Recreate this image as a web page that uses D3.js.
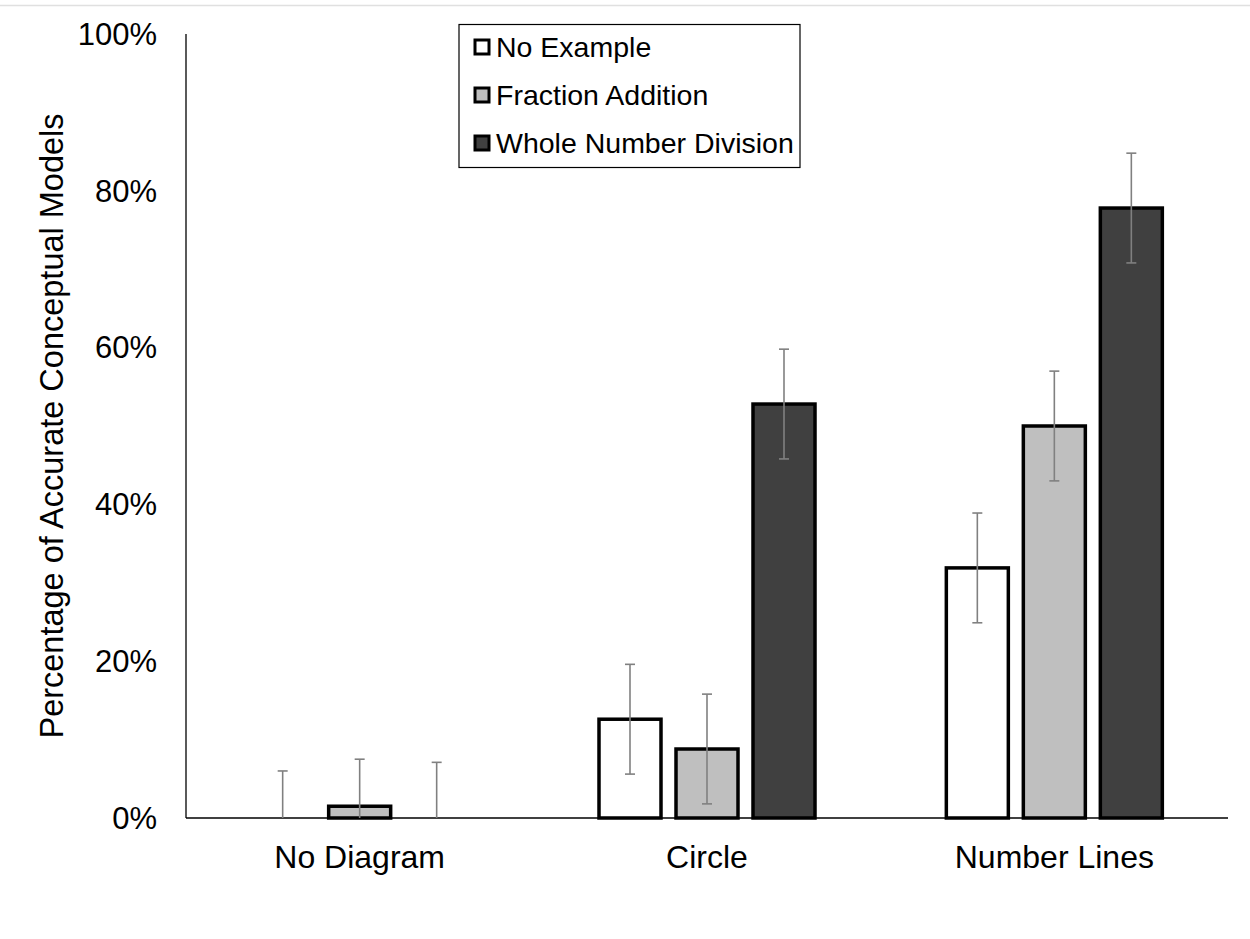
<!DOCTYPE html>
<html><head><meta charset="utf-8">
<script src="https://cdn.jsdelivr.net/npm/d3@7"></script>
<style>body{margin:0;background:#fff;} svg{display:block;font-family:"Liberation Sans",Arial,sans-serif;}</style>
</head><body>
<svg id="c" width="1250" height="939"></svg>
<script>
const categories = ["No Diagram", "Circle", "Number Lines"];
const seriesNames = ["No Example", "Fraction Addition", "Whole Number Division"];
const seriesColors = ["#ffffff", "#bfbfbf", "#404040"];
const noExample = [0, 12.6, 31.9];
const fractionAddition = [1.5, 8.8, 50.0];
const wholeNumberDivision = [0, 52.8, 77.8];
const errNoExample = [6.0, 7.0, 7.0];
const errFractionAddition = [6.0, 7.0, 7.0];
const errWholeNumberDivision = [7.1, 7.0, 7.0];
const yTicks = [0, 20, 40, 60, 80, 100];

(function(){
const values = [noExample, fractionAddition, wholeNumberDivision];
const errs = [errNoExample, errFractionAddition, errWholeNumberDivision];

const svg = d3.select("#c");
const mLeft = 186, mRight = 1228, mTop = 34, mBottom = 818;

svg.append("line").attr("x1",0).attr("x2",1250).attr("y1",5.5).attr("y2",5.5)
  .attr("stroke","#e0e0e0").attr("stroke-width",1.5);

const x0 = d3.scaleBand().domain(categories).range([mLeft, mRight]);
const y = d3.scaleLinear().domain([0, 100]).range([mBottom, mTop]);
const barW = 62, step = 77;

const data = [];
categories.forEach((c, ci) => {
  seriesNames.forEach((s, si) => {
    data.push({c, si, v: values[si][ci], e: errs[si][ci]});
  });
});
const cx = d => x0(d.c) + x0.bandwidth()/2 + (d.si - 1) * step;

svg.append("g").selectAll("text").data(yTicks).join("text")
  .attr("x", 157).attr("y", d => y(d)).attr("dy", "0.35em")
  .attr("text-anchor", "end").attr("font-size", 31).attr("fill", "#000")
  .text(d => d + "%");

svg.append("g").selectAll("rect").data(data.filter(d => d.v > 0)).join("rect")
  .attr("x", d => cx(d) - barW/2).attr("width", barW)
  .attr("y", d => y(d.v)).attr("height", d => y(0) - y(d.v))
  .attr("fill", d => seriesColors[d.si])
  .attr("stroke", "#000").attr("stroke-width", 3.5);

svg.append("line").attr("x1", mLeft).attr("x2", mLeft).attr("y1", mTop).attr("y2", mBottom)
  .attr("stroke", "#000").attr("stroke-width", 1.3);
svg.append("line").attr("x1", mLeft).attr("x2", mRight).attr("y1", mBottom).attr("y2", mBottom)
  .attr("stroke", "#000").attr("stroke-width", 1.3);

const eg = svg.append("g").attr("stroke", "#808080").attr("stroke-width", 1.6);
data.forEach(d => {
  const hi = d.v + d.e, lo = Math.max(0, d.v - d.e);
  const X = cx(d);
  eg.append("line").attr("x1", X).attr("x2", X).attr("y1", y(hi)).attr("y2", y(lo));
  eg.append("line").attr("x1", X - 5).attr("x2", X + 5).attr("y1", y(hi)).attr("y2", y(hi));
  if (d.v - d.e > 0) eg.append("line").attr("x1", X - 5).attr("x2", X + 5).attr("y1", y(lo)).attr("y2", y(lo));
});

svg.append("g").selectAll("text").data(categories).join("text")
  .attr("x", d => x0(d) + x0.bandwidth()/2).attr("y", 868)
  .attr("text-anchor", "middle").attr("font-size", 32).attr("fill", "#000")
  .text(d => d);

svg.append("text").attr("transform", "translate(63,426) rotate(-90)")
  .attr("text-anchor", "middle").attr("font-size", 32.5).attr("fill", "#000")
  .text("Percentage of Accurate Conceptual Models");

const lg = svg.append("g");
lg.append("rect").attr("x", 459).attr("y", 24.5).attr("width", 341).attr("height", 143)
  .attr("fill", "#fff").attr("stroke", "#000").attr("stroke-width", 1.2);
seriesNames.forEach((s, i) => {
  const cy = 47 + i * 48;
  lg.append("rect").attr("x", 475).attr("y", cy - 7).attr("width", 14).attr("height", 14)
    .attr("fill", seriesColors[i]).attr("stroke", "#000").attr("stroke-width", 3);
  lg.append("text").attr("x", 496).attr("y", cy).attr("dy", "0.35em")
    .attr("font-size", 28.5).attr("fill", "#000").text(s);
});
})();
</script>
</body></html>
